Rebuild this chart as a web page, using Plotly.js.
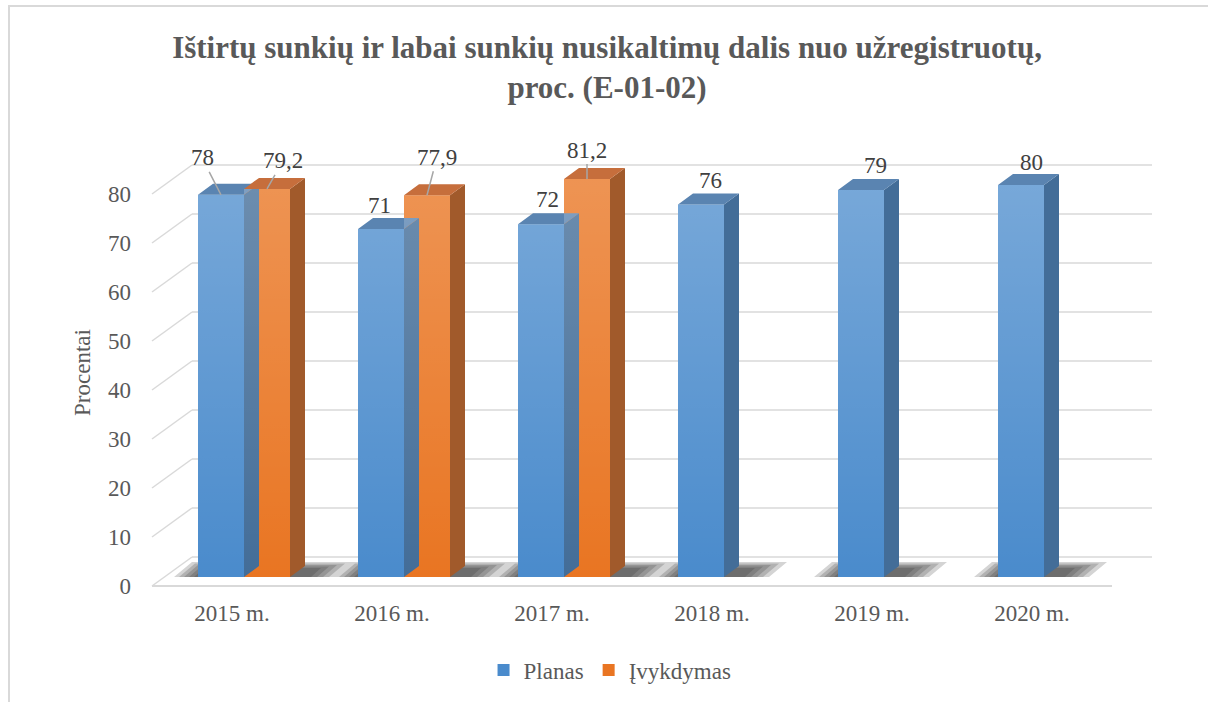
<!DOCTYPE html>
<html>
<head>
<meta charset="utf-8">
<script src="https://cdn.plot.ly/plotly-3.0.1.min.js"></script>
<style>html,body{margin:0;padding:0;background:#fff;}#chart{width:1208px;height:702px;}</style>
</head>
<body>
<div id="chart"></div>
<script>
// ---- data ----
const categories = ['2015 m.', '2016 m.', '2017 m.', '2018 m.', '2019 m.', '2020 m.'];
const planas = [78, 71, 72, 76, 79, 80];
const ivykdymas = [79.2, 77.9, 81.2, null, null, null];
const yTicks = [0, 10, 20, 30, 40, 50, 60, 70, 80];
const seriesNames = ['Planas', 'Įvykdymas'];

// ---- geometry / style (pixel scale of the axes) ----
const PXU = 160, PXV = 4.9;            // px per x-unit, px per y-unit
const BW = 0.2875;                      // bar width (x-units)
const DX = 15 / PXU, DY = 11 / PXV;     // bar depth
const BACK_DX = 28 / PXU, BACK_DY = 20 / PXV;   // back wall offset
const FRONT_DX = -12 / PXU, FRONT_DY = -9 / PXV; // front edge offset
const XR = [-0.65, 5.75625], YR = [-18 / PXV, 427 / PXV];
const gridColor = '#d9d9d9';
const font = 'Liberation Serif';
const txtSize = 23;

const idx = categories.map((c, i) => i);

// bar faces (side & top) computed from the values
function faceTraces(vals, off, sideColor, topColor, gradTop) {
  const sx = [], sy = [], tx = [], ty = [], fx = [], fy = [];
  vals.forEach((v, i) => {
    if (v === null) return;
    const x0 = i + off, x1 = x0 + BW;
    sx.push(x1, x1 + DX, x1 + DX, x1, x1, null);
    sy.push(0, DY, v + DY, v, 0, null);
    tx.push(x0, x1, x1 + DX, x0 + DX, x0, null);
    ty.push(v, v, v + DY, v + DY, v, null);
    fx.push(x0, x1, x1, x0, x0, null);
    fy.push(0, 0, v, v, 0, null);
  });
  const common = {type: 'scatter', mode: 'lines', fill: 'toself', line: {width: 0},
    hoverinfo: 'skip', showlegend: false, xaxis: 'x2', yaxis: 'y2'};
  return [
    Object.assign({}, common, {x: fx, y: fy, fillcolor: 'rgba(255,255,255,0)',
      fillgradient: {type: 'vertical', start: 0, stop: 80,
        colorscale: [[0, 'rgba(255,255,255,0)'], [1, gradTop]]}}),
    Object.assign({}, common, {x: sx, y: sy, fillcolor: sideColor}),
    Object.assign({}, common, {x: tx, y: ty, fillcolor: topColor})
  ];
}

// floor shadows: stacked translucent layers give a soft edge
const shadowTraces = [];
for (let k = 0; k < 5; k++) {
  const xs = [], ys = [];
  const leftPad = 24 - 5 * k, rightPad = 30 - 6 * k, duPx = 18 - 2 * k;
  const dv = (15 - 1.5 * k) / PXV, du = duPx / PXU;
  idx.forEach(i => {
    const left = i - BW - leftPad / PXU;
    const right = (ivykdymas[i] !== null ? i + BW : i) + DX + rightPad / PXU;
    xs.push(left, right, right + du, left + du, left, null);
    ys.push(0, 0, dv, dv, 0, null);
  });
  shadowTraces.push({type: 'scatter', mode: 'lines', fill: 'toself', line: {width: 0},
    hoverinfo: 'skip', showlegend: false, xaxis: 'x', yaxis: 'y',
    x: xs, y: ys, fillcolor: 'rgba(40,40,40,0.2)'});
}

const bars = [
  {type: 'bar', name: seriesNames[0], x: idx, y: planas, offset: -BW, width: BW,
   marker: {color: '#4a8bcc', line: {width: 0}}, xaxis: 'x2', yaxis: 'y2', hoverinfo: 'skip'},
  {type: 'bar', name: seriesNames[1], x: idx, y: ivykdymas, offset: 0, width: BW,
   marker: {color: '#e97522', line: {width: 0}}, xaxis: 'x2', yaxis: 'y2', hoverinfo: 'skip'}
];

const data = [].concat(
  shadowTraces,
  bars,
  faceTraces(planas, -BW, '#436d98', '#5a84b1', 'rgba(255,255,255,0.25)'),
  faceTraces(ivykdymas, 0, '#a15a2b', '#c66e3c', 'rgba(255,255,255,0.22)')
);

// walls and grid lines
const shapes = [];
yTicks.forEach(t => {
  shapes.push({type: 'line', xref: 'x', yref: 'y', layer: 'below',
    x0: -0.5 + BACK_DX, x1: 5.5 + BACK_DX, y0: t + BACK_DY, y1: t + BACK_DY,
    line: {color: gridColor, width: 1.5}});
  shapes.push({type: 'line', xref: 'x', yref: 'y', layer: 'below',
    x0: -0.5 + FRONT_DX, x1: -0.5 + BACK_DX, y0: t + FRONT_DY, y1: t + BACK_DY,
    line: {color: gridColor, width: 1.5}});
});
shapes.push({type: 'line', xref: 'x', yref: 'y', layer: 'below',
  x0: -0.5 + FRONT_DX, x1: 5.5 + FRONT_DX, y0: FRONT_DY, y1: FRONT_DY,
  line: {color: gridColor, width: 2}});
// outer frame
shapes.push({type: 'rect', xref: 'paper', yref: 'paper',
  x0: (9 - 140) / 1025, x1: 1.1, y0: -0.3, y1: (595 - 6) / 445,
  line: {color: '#d9d9d9', width: 2}, fillcolor: 'rgba(0,0,0,0)'});

// data labels
const fmt = v => String(v).replace('.', ',');
const labelStyle = {
  planas: [{ax: -19, ay: -37}, {xs: -2, ys: 24}, {xs: 6, ys: 25}, {xs: 9, ys: 24}, {xs: 14, ys: 24}, {xs: 10, ys: 23}],
  ivykdymas: [{ax: 16, ay: -28}, {ax: 10, ay: -38}, {ax: 0, ay: -29}]
};
const annotations = [];
function addLabels(vals, off, styles) {
  vals.forEach((v, i) => {
    if (v === null) return;
    const s = styles[i];
    const a = {x: i + off, y: v, xref: 'x', yref: 'y', text: fmt(v),
      font: {family: font, size: txtSize, color: '#404040'}};
    if (s.ax !== undefined) {
      Object.assign(a, {showarrow: true, arrowhead: 0, arrowwidth: 1.5, arrowcolor: '#a6a6a6',
        ax: s.ax, ay: s.ay, standoff: 0});
    } else {
      Object.assign(a, {showarrow: false, xshift: s.xs, yshift: s.ys});
    }
    annotations.push(a);
  });
}
addLabels(planas, -BW / 2, labelStyle.planas);
addLabels(ivykdymas, BW / 2, labelStyle.ivykdymas);

const layout = {
  width: 1208, height: 702,
  font: {family: font, color: '#595959'},
  margin: {l: 140, r: 43, t: 150, b: 107, autoexpand: false},
  paper_bgcolor: '#ffffff', plot_bgcolor: 'rgba(0,0,0,0)',
  showlegend: true,
  hovermode: false,
  title: {text: 'Ištirtų sunkių ir labai sunkių nusikaltimų dalis nuo užregistruotų,<br>proc. (E-01-02)',
    font: {family: font, size: 31, weight: 'bold', color: '#595959'},
    xref: 'container', x: 0.5025, yref: 'container', y: 1 - 58 / 702, yanchor: 'top'},
  xaxis: {range: XR, tickvals: idx, ticktext: categories, showgrid: false, zeroline: false,
    showline: false, ticks: '', ticklabelshift: -12, ticklabelstandoff: 2,
    tickfont: {family: font, size: txtSize, color: '#595959'}, fixedrange: true},
  yaxis: {range: YR, tickvals: yTicks, showgrid: false, zeroline: false, showline: false,
    ticks: '', ticklabelshift: 9, ticklabelstandoff: 8,
    tickfont: {family: font, size: txtSize, color: '#595959'},
    title: {text: 'Procentai', font: {family: font, size: txtSize, color: '#595959'}, standoff: 10},
    fixedrange: true},
  xaxis2: {range: XR, overlaying: 'x', visible: false, fixedrange: true},
  yaxis2: {range: YR, overlaying: 'y', visible: false, fixedrange: true},
  legend: {orientation: 'h', xref: 'container', yref: 'container', x: 0.505, xanchor: 'center',
    y: 1 - 670 / 702, yanchor: 'middle', font: {family: font, size: txtSize, color: '#595959'},
    itemwidth: 30, traceorder: 'normal'},
  shapes: shapes,
  annotations: annotations
};

Plotly.newPlot('chart', data, layout, {displayModeBar: false, staticPlot: true});
</script>
</body>
</html>
